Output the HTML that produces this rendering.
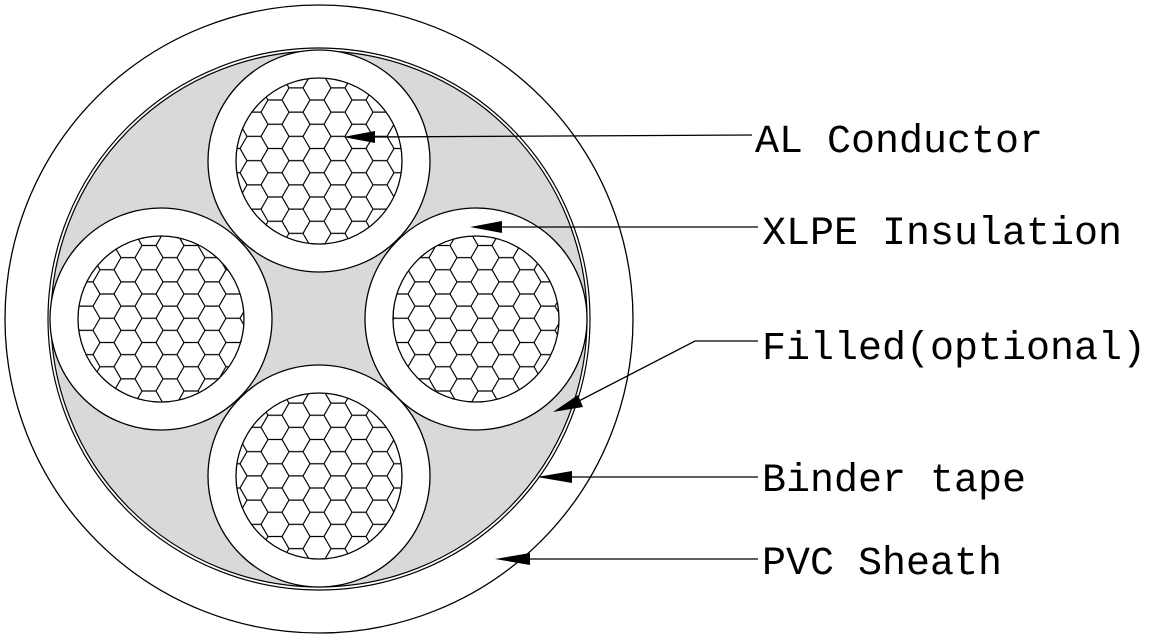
<!DOCTYPE html>
<html><head><meta charset="utf-8"><style>
html,body{margin:0;padding:0;background:#fff;width:1150px;height:639px;overflow:hidden}
text{font-family:"Liberation Mono",monospace;font-size:40px;fill:#000}
</style></head><body>
<svg width="1150" height="639" viewBox="0 0 1150 639" xmlns="http://www.w3.org/2000/svg">
<defs>
<pattern id="hx" width="42" height="24.25" patternUnits="userSpaceOnUse" x="2" y="3">
<path d="M0,12.125 H7 L14,0 H28 L35,12.125 H42 M7,12.125 L14,24.25 H28 L35,12.125" fill="none" stroke="#000" stroke-width="1.2"/>
</pattern>
</defs>
<circle cx="319" cy="319" r="314" fill="#fff" stroke="#000" stroke-width="1.3"/>
<circle cx="319" cy="319" r="271" fill="#fff" stroke="#000" stroke-width="1.2"/>
<circle cx="319" cy="319" r="268" fill="#d9d9d9" stroke="#000" stroke-width="1.2"/>
<g stroke="#000" stroke-width="1.3">
<circle cx="319" cy="161" r="111" fill="#fff"/>
<circle cx="161" cy="319" r="111" fill="#fff"/>
<circle cx="476" cy="319" r="111" fill="#fff"/>
<circle cx="319" cy="476" r="111" fill="#fff"/>
<circle cx="319" cy="161" r="83" fill="url(#hx)"/>
<circle cx="161" cy="319" r="83" fill="url(#hx)"/>
<circle cx="476" cy="319" r="83" fill="url(#hx)"/>
<circle cx="319" cy="476" r="83" fill="url(#hx)"/>
</g>
<g stroke="#000" stroke-width="1.3" fill="none">
<line x1="370" y1="137" x2="752" y2="135"/>
<line x1="495" y1="227" x2="758" y2="227"/>
<polyline points="575,403 695,341 758,341"/>
<line x1="565" y1="477" x2="758" y2="477"/>
<line x1="525" y1="559" x2="758" y2="559"/>
</g>
<g fill="#000">
<polygon points="343,137 375,131 375,143"/>
<polygon points="470,227 502,221 502,233"/>
<polygon points="553,412 578,395 583,407"/>
<polygon points="537,477 572,471 572,483"/>
<polygon points="495,559 530,553 530,565"/>
</g>
<text x="755" y="152">AL Conductor</text>
<text x="762" y="244">XLPE Insulation</text>
<text x="762" y="359">Filled(optional)</text>
<text x="762" y="491">Binder tape</text>
<text x="762" y="574">PVC Sheath</text>
</svg>
</body></html>
